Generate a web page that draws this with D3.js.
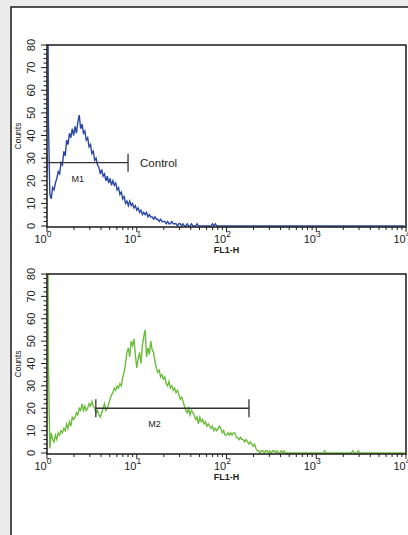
<!DOCTYPE html>
<meta charset="utf-8">
<script src="https://d3js.org/d3.v7.min.js"></script>
<style>
	body{
		margin:0;
		background:#ececec;
		font-family:'Liberation Sans', Arial, sans-serif;
	}
</style>
<div id="chart"></div>

<script>

// FL1-H channels, 256 of them over 4 decades
var channelsPerDecade = 64

// control histogram (blue), counts per channel
var ctrlCounts = [
	200,47,14,12,17,16,19,21,24,23,28,27,33,31,38,36,
	41,39,43,40,44,41,46,49,43,45,41,42,38,39,35,36,
	32,33,29,30,27,26,23,25,22,23,20,22,19,21,18,20,
	18,19,16,17,14,15,12,13,10,11,9,11,9,10,8,9,
	7,8,6,7,5,6,5,6,4,5,4,4,3,4,3,3,
	2,3,2,2,2,1,2,1,1,2,1,1,1,0,1,1,
	0,1,0,0,1,0,0,1,0,0,0,1,0,0,0,0,
	0,0,0,0,0,0,1,0,1,0,0,0,0,0,0,0,
	0,0,0,0,0,0,0,0,0,0,0,0,0,0,0,0,
	0,0,0,0,0,0,0,0,0,0,0,0,0,0,0,0,
	0,0,0,0,0,0,0,0,0,0,0,0,0,0,0,0,
	0,0,0,0,0,0,0,0,0,0,0,0,0,0,0,0,
	0,0,0,0,0,0,0,0,0,0,0,0,0,0,0,0,
	0,0,0,0,0,0,0,0,0,0,0,0,0,0,0,0,
	0,0,0,0,0,0,0,0,0,0,0,0,0,0,0,0,
	0,0,0,0,0,0,0,0,0,0,0,0,0,0,0,0
]

// stained sample histogram (green)
var sampleCounts = [
	200,41,2,9,6,5,8,6,9,8,10,9,11,10,13,11,
	14,12,16,15,16,18,17,20,19,22,19,21,19,20,22,21,
	23,21,20,18,19,17,16,18,20,22,19,20,22,24,26,27,
	29,28,30,29,31,30,34,36,40,45,47,43,50,48,51,44,
	38,42,45,40,48,52,55,43,47,44,50,46,45,41,38,36,
	37,34,35,33,34,31,30,32,29,30,28,29,27,28,26,24,
	25,23,21,19,18,20,17,19,18,17,15,16,13,16,14,15,
	13,14,12,13,12,11,12,10,11,10,11,12,11,9,10,8,
	8,9,8,9,8,9,9,7,7,6,7,6,6,5,6,5,
	4,5,4,3,4,2,1,1,0,1,1,0,1,1,0,1,
	0,1,1,0,1,0,0,1,0,1,0,0,0,0,0,0,
	0,0,0,0,0,0,0,0,0,0,0,0,0,0,0,0,
	0,0,0,0,0,0,1,0,0,0,0,0,0,0,0,0,
	0,0,0,0,0,0,0,0,0,0,1,0,0,0,1,0,
	0,0,0,0,0,0,0,0,0,0,0,0,0,0,0,0,
	0,0,0,0,0,0,0,0,0,0,0,0,0,0,0,0
]

var yTicks = [0,10,20,30,40,50,60,70,80]
var xDecades = [0,1,2,3,4]

// markers: [from, to, count level]
var marker1 = {name:"M1", from:1, to:8, level:28, labelAt:2.2, tag:"Control"}
var marker2 = {name:"M2", from:3.5, to:178, level:20, labelAt:15.8, tag:""}

var blue = "#2b47a6"
var green = "#6cbd3c"

var W = 408
var H = 535

var svg = d3.select("#chart").append("svg").attr("width",W).attr("height",H)

svg.append("rect").attr("width",W).attr("height",H).attr("fill","#ececec")
svg.append("rect").attr("x",11).attr("y",7).attr("width",430).attr("height",560)
	.attr("fill","#fff").attr("stroke","#1a1a1a").attr("stroke-width",1.5)

drawHist(ctrlCounts, blue, 45, 227, marker1, "h1")
drawHist(sampleCounts, green, 274, 454, marker2, "h2")

function drawHist(counts, color, top, bottom, marker, id){
	var left = 47
	var right = 406

	var x = d3.scaleLog().domain([1,10000]).range([left,right])
	var y = d3.scaleLinear().domain([0,80]).range([bottom-1,top])

	var g = svg.append("g")

	// clip so the off-scale first channel stops at the frame top
	svg.append("clipPath").attr("id","clip_"+id)
		.append("rect").attr("x",left-1).attr("y",top).attr("width",right-left+1).attr("height",bottom-top)

	// y ticks, minor every 2
	var minor = d3.range(0,81,2)
	g.selectAll(".ym").data(minor).join("line")
		.attr("x1",function(d){ return d%10==0 ? left-6 : left-3.5 })
		.attr("x2",left)
		.attr("y1",function(d){ return y(d) })
		.attr("y2",function(d){ return y(d) })
		.attr("stroke","#222").attr("stroke-width",1)

	g.selectAll(".yl").data(yTicks).join("text")
		.attr("transform",function(d){ return "translate(35,"+y(d)+") rotate(-90)" })
		.attr("text-anchor","middle")
		.style("font-family","'Liberation Sans Narrow','Liberation Sans',sans-serif")
		.style("font-size","11px")
		.attr("fill","#222")
		.text(function(d){ return d })

	g.append("text")
		.attr("transform","translate(21,"+((top+bottom)/2)+") rotate(-90)")
		.attr("text-anchor","middle")
		.style("font-size","8.5px")
		.attr("fill","#222")
		.text("Counts")

	// x ticks: decades and 2..9 minor
	var xt = []
	for(var dcd=0; dcd<4; dcd++){
		for(var m=1; m<10; m++){
			xt.push({v:m*Math.pow(10,dcd), major:m==1})
		}
	}
	xt.push({v:10000, major:true})
	g.selectAll(".xt").data(xt).join("line")
		.attr("x1",function(d){ return x(d.v) })
		.attr("x2",function(d){ return x(d.v) })
		.attr("y1",bottom)
		.attr("y2",function(d){ return d.major ? bottom+5 : bottom+3 })
		.attr("stroke","#222").attr("stroke-width",1)

	var xl = g.selectAll(".xl").data(xDecades).join("text")
		.attr("x",function(d){ return x(Math.pow(10,d))-4 })
		.attr("y",bottom+16)
		.attr("text-anchor","middle")
		.style("font-size","11px")
		.attr("fill","#222")
	xl.append("tspan").text("10")
	xl.append("tspan").attr("dy",-6).style("font-size","8.5px").text(function(d){ return d })

	g.append("text")
		.attr("x",x(100)).attr("y",bottom+26)
		.attr("text-anchor","middle")
		.style("font-size","9px").style("font-weight","bold")
		.attr("fill","#222")
		.text("FL1-H")

	// histogram trace
	var line = d3.line()
		.x(function(d,i){ return x(Math.pow(10,i/channelsPerDecade)) })
		.y(function(d){ return y(d) })

	g.append("path")
		.datum(counts)
		.attr("clip-path","url(#clip_"+id+")")
		.attr("d",line)
		.attr("fill","none")
		.attr("stroke",color)
		.attr("stroke-width",1.4)

	// frame
	g.append("rect")
		.attr("x",left).attr("y",top)
		.attr("width",right-left).attr("height",bottom-top)
		.attr("fill","none").attr("stroke","#1a1a1a").attr("stroke-width",1.5)

	// marker bar
	var my = y(marker.level)
	g.append("line")
		.attr("x1",x(marker.from)).attr("x2",x(marker.to))
		.attr("y1",my).attr("y2",my)
		.attr("stroke","#333").attr("stroke-width",1.3)
	g.selectAll(".mk").data([marker.from, marker.to]).join("line")
		.attr("x1",function(d){ return x(d) }).attr("x2",function(d){ return x(d) })
		.attr("y1",my-9).attr("y2",my+9)
		.attr("stroke","#333").attr("stroke-width",1.3)

	g.append("text")
		.attr("x",x(marker.labelAt)).attr("y",my+19)
		.attr("text-anchor","middle")
		.style("font-size","9px")
		.attr("fill","#222")
		.text(marker.name)

	if(marker.tag!=""){
		g.append("text")
			.attr("x",x(marker.to)+12).attr("y",my+4)
			.style("font-size","11.5px")
			.attr("fill","#222")
			.text(marker.tag)
	}
}

</script>
